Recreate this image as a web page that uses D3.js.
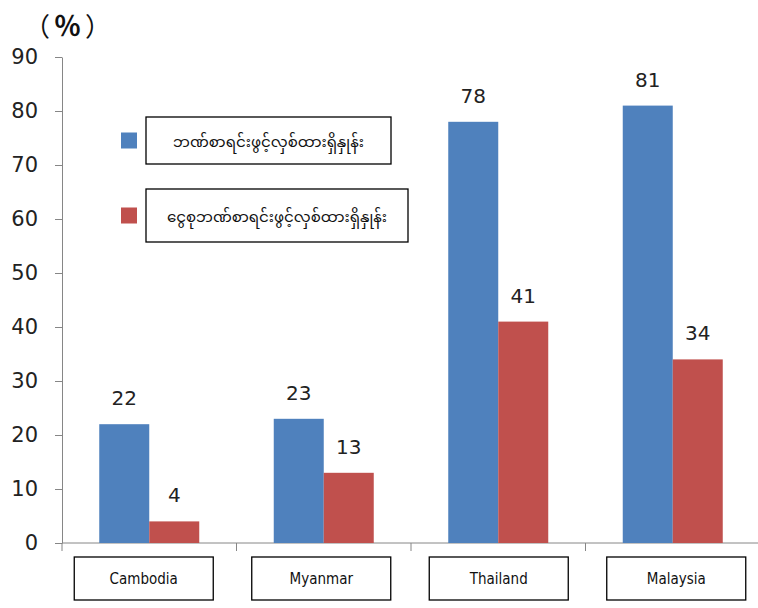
<!DOCTYPE html>
<html><head><meta charset="utf-8">
<script src="https://cdn.jsdelivr.net/npm/d3@7"></script>
<style>
body{margin:0;background:#fff;}
svg{display:block;}
</style></head>
<body><svg id="c" width="758" height="608"></svg>
<script>
const categories = ["Cambodia","Myanmar","Thailand","Malaysia"];
const seriesNames = ["ဘဏ်စာရင်းဖွင့်လှစ်ထားရှိနှုန်း","ငွေစုဘဏ်စာရင်းဖွင့်လှစ်ထားရှိနှုန်း"];
const bankAccount = [22,23,78,81];
const savingsAccount = [4,13,41,34];
const yTicks = [0,10,20,30,40,50,60,70,80,90];
const colors = ["#4F81BD","#C0504D"];
const unitLabel = "（％）";

(function(){
const svg = d3.select("#c");
const pLeft = 62, pRight = 760, pTop = 57, pBottom = 543;
const y = d3.scaleLinear().domain([0,90]).range([pBottom, pTop]);
const x = d3.scaleBand().domain(categories).range([pLeft, pRight]).paddingInner(0).paddingOuter(0);
const inner = d3.scaleBand().domain([0,1]).range([0, x.bandwidth()]).paddingInner(0).paddingOuter(0.745);
const boxScale = d3.scaleBand().domain(categories).range([55, 765]);
const numFont = "'DejaVu Sans', Verdana, sans-serif";
const myFont = "'Noto Sans Myanmar','Myanmar Text','Padauk','Noto Sans',sans-serif";

// y axis
const yAxis = d3.axisLeft(y).tickValues(yTicks).tickSize(7).tickPadding(17).tickSizeOuter(0);
const gy = svg.append("g").attr("transform",`translate(${pLeft},0)`).call(yAxis);
gy.selectAll("path,line").attr("stroke","#868686");
gy.selectAll("text").attr("font-family",numFont).attr("font-size",21).attr("fill","#222");

// x axis
const gx = svg.append("g").attr("transform",`translate(0,${pBottom})`);
gx.append("line").attr("x1",pLeft).attr("x2",pRight).attr("y1",0).attr("y2",0).attr("stroke","#868686");
const bounds = categories.map(c=>x(c)).concat([pRight]);
gx.selectAll("line.tk").data(bounds).join("line").attr("class","tk")
  .attr("x1",d=>d).attr("x2",d=>d).attr("y1",0).attr("y2",8).attr("stroke","#868686");

// bars
const series = [bankAccount, savingsAccount];
series.forEach((vals,si)=>{
  const g = svg.append("g");
  g.selectAll("rect").data(categories).join("rect")
    .attr("x",(c)=>x(c)+inner(si))
    .attr("width",inner.bandwidth())
    .attr("y",(c,i)=>y(vals[i]))
    .attr("height",(c,i)=>pBottom-y(vals[i]))
    .attr("fill",colors[si]);
  g.selectAll("text").data(categories).join("text")
    .attr("x",(c)=>x(c)+inner(si)+inner.bandwidth()/2)
    .attr("y",(c,i)=>y(vals[i])-19)
    .attr("text-anchor","middle")
    .attr("font-family",numFont).attr("font-size",20).attr("fill","#222")
    .text((c,i)=>vals[i]);
});

// category boxes
const boxW = 139, boxH = 43;
const cg = svg.append("g");
categories.forEach(c=>{
  const cx = boxScale(c)+boxScale.bandwidth()/2;
  cg.append("rect").attr("x",cx-boxW/2).attr("y",557).attr("width",boxW).attr("height",boxH)
    .attr("fill","#fff").attr("stroke","#000").attr("stroke-width",1.3);
  cg.append("text").attr("x",cx).attr("y",557+boxH/2+5).attr("text-anchor","middle")
    .attr("font-family","'DejaVu Sans Condensed','DejaVu Sans',sans-serif").attr("font-size",15).attr("fill","#111")
    .text(c);
});

// legend
const legendBoxes = [{x:146,y:117,w:245,h:47},{x:146,y:189,w:262,h:53}];
seriesNames.forEach((n,i)=>{
  const b = legendBoxes[i];
  svg.append("rect").attr("x",121).attr("y",b.y+b.h/2-8).attr("width",16).attr("height",16).attr("fill",colors[i]);
  svg.append("rect").attr("x",b.x).attr("y",b.y).attr("width",b.w).attr("height",b.h)
    .attr("fill","#fff").attr("stroke","#000").attr("stroke-width",1.3);
  svg.append("text").attr("x",b.x+b.w/2).attr("y",b.y+b.h/2+6).attr("text-anchor","middle")
    .attr("font-family",myFont).attr("font-size",15).attr("fill","#111").text(n);
});

// unit label
const ut = svg.append("text").attr("x",24).attr("y",36).attr("font-family","'Noto Sans CJK JP',sans-serif")
  .attr("fill","#111");
const chars = Array.from(unitLabel);
ut.append("tspan").attr("font-size",26).text(chars[0]);
ut.append("tspan").attr("font-size",27).attr("font-weight","bold").attr("dx",4).text(chars[1]);
ut.append("tspan").attr("font-size",26).attr("dx",4).text(chars[2]);
})();
</script></body></html>
